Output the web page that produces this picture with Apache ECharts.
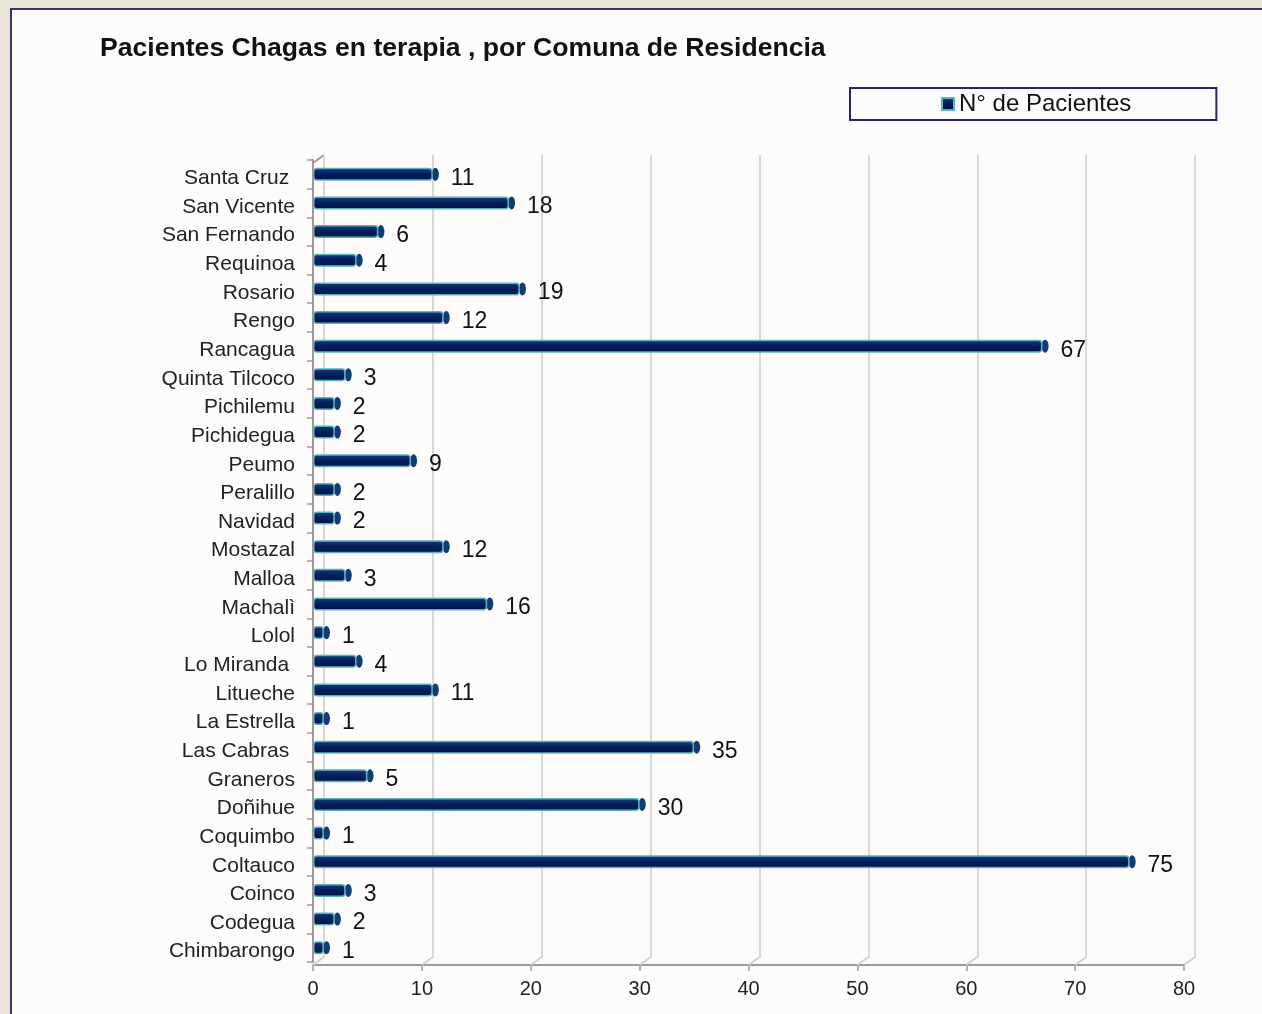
<!DOCTYPE html>
<html><head><meta charset="utf-8">
<script src="https://cdn.jsdelivr.net/npm/echarts@6/dist/echarts.min.js"></script>
<style>
html,body{margin:0;padding:0;width:1262px;height:1014px;overflow:hidden;background:#e8e4d8;}
#panel{position:absolute;left:10px;top:8px;width:1262px;height:1014px;background:#fdfcfa;border:2px solid #34346e;box-sizing:border-box;}
#chart{position:absolute;left:0;top:0;width:1262px;height:1014px;}
</style></head>
<body><div id="panel"></div><div id="chart"></div>
<script>
const titleText = 'Pacientes Chagas en terapia , por Comuna de Residencia';
const seriesName = 'N° de Pacientes';
const categories = ['Santa Cruz ','San Vicente','San Fernando','Requinoa','Rosario','Rengo','Rancagua','Quinta Tilcoco','Pichilemu','Pichidegua','Peumo','Peralillo','Navidad','Mostazal','Malloa','Machalì','Lolol','Lo Miranda ','Litueche','La Estrella','Las Cabras ','Graneros','Doñihue','Coquimbo','Coltauco','Coinco','Codegua','Chimbarongo'];
const values = [11,18,6,4,19,12,67,3,2,2,9,2,2,12,3,16,1,4,11,1,35,5,30,1,75,3,2,1];
const xTicks = [0,10,20,30,40,50,60,70,80];

const font = '"Liberation Sans", Arial, sans-serif';
const chart = echarts.init(document.getElementById('chart'), null, {renderer:'canvas'});
chart.setOption({
  backgroundColor: 'transparent',
  animation: false,
  title: {text: titleText, left: 100, top: 35, padding:0, textStyle:{fontFamily:font, fontSize:26.6, fontWeight:'bold', color:'#111'}},
  legend: {
    data:[seriesName], left: 850, top: 88, orient:'horizontal',
    padding:[4,85,4,91], borderColor:'#24246e', borderWidth:2, backgroundColor:'#fdfcfa',
    itemWidth:12, itemHeight:12, itemGap:5,
    textStyle:{fontFamily:font, fontSize:24, color:'#111'},
    icon:'rect'
  },
  grid: [
    {left:313, right:78, top:160, bottom:52, containLabel:false},
    {left:324, right:67, top:155, bottom:56, containLabel:false}
  ],
  xAxis: [
    {type:'value', gridIndex:0, min:0, max:80, interval:10, offset:3,
     axisLine:{show:true, lineStyle:{color:'#9a9a9a', width:2}},
     axisTick:{show:true, length:6, lineStyle:{color:'#9a9a9a', width:1.5}},
     axisLabel:{fontFamily:font, fontSize:20, color:'#222', margin:14},
     splitLine:{show:false}},
    {type:'value', gridIndex:1, min:0, max:80, interval:10,
     axisLine:{show:false}, axisTick:{show:false}, axisLabel:{show:false},
     splitLine:{show:true, lineStyle:{color:'#d8d8d8', width:2}}}
  ],
  yAxis: [
    {type:'category', gridIndex:0, data:categories, inverse:true,
     axisLine:{show:true, lineStyle:{color:'#9a9a9a', width:2}},
     axisTick:{show:true, length:6, alignWithLabel:false, lineStyle:{color:'#9a9a9a', width:1.5}},
     axisLabel:{margin:18, formatter:'{a|{value}}',
       rich:{a:{fontFamily:font, fontSize:21, color:'#222', padding:[8,0,0,0]}}}},
    {type:'value', gridIndex:1, show:false}
  ],
  series: [
    {
      name: seriesName, type:'bar', xAxisIndex:0, yAxisIndex:0, data:values, barWidth:13,
      itemStyle:{
        color:new echarts.graphic.LinearGradient(0,0,0,1,[{offset:0,color:'#1d3f78'},{offset:0.45,color:'#002060'},{offset:1,color:'#00143c'}]),
        borderColor:'#5fb0bf', borderWidth:1.5, borderRadius:3
      },
      label:{show:true, position:'right', distance:18, offset:[0,4], fontFamily:font, fontSize:23, color:'#111'},
      z:5
    },
    {
      type:'pictorialBar', xAxisIndex:0, yAxisIndex:0, data:values, barWidth:13,
      symbol:'circle', symbolSize:[7,13], symbolPosition:'end', symbolOffset:['95%',0],
      itemStyle:{color:'#103c70', borderColor:'#6bbac6', borderWidth:1.5},
      silent:true, z:4, tooltip:{show:false}, legendHoverLink:false
    },
    {
      type:'custom', xAxisIndex:0, yAxisIndex:0, data:xTicks.map(v=>[v]), silent:true, z:1,
      renderItem:function(params, api){
        const p = api.coord([api.value(0), 0]);
        const cs = params.coordSys;
        const bottom = cs.y + cs.height + 3;
        const top = 155;
        const children = [{type:'line', shape:{x1:p[0], y1:bottom, x2:p[0]+11, y2:bottom-8}, style:{stroke:'#d0d0d0', lineWidth:2}}];
        if (api.value(0) === 0) {
          children.push({type:'line', shape:{x1:p[0], y1:top+8, x2:p[0]+11, y2:top}, style:{stroke:'#9a9a9a', lineWidth:2}});
          children.push({type:'line', shape:{x1:p[0]+11, y1:top, x2:p[0]+11, y2:bottom-8}, style:{stroke:'#d8d8d8', lineWidth:2}});
        }
        return {type:'group', children:children};
      }
    }
  ]
});
</script></body></html>
